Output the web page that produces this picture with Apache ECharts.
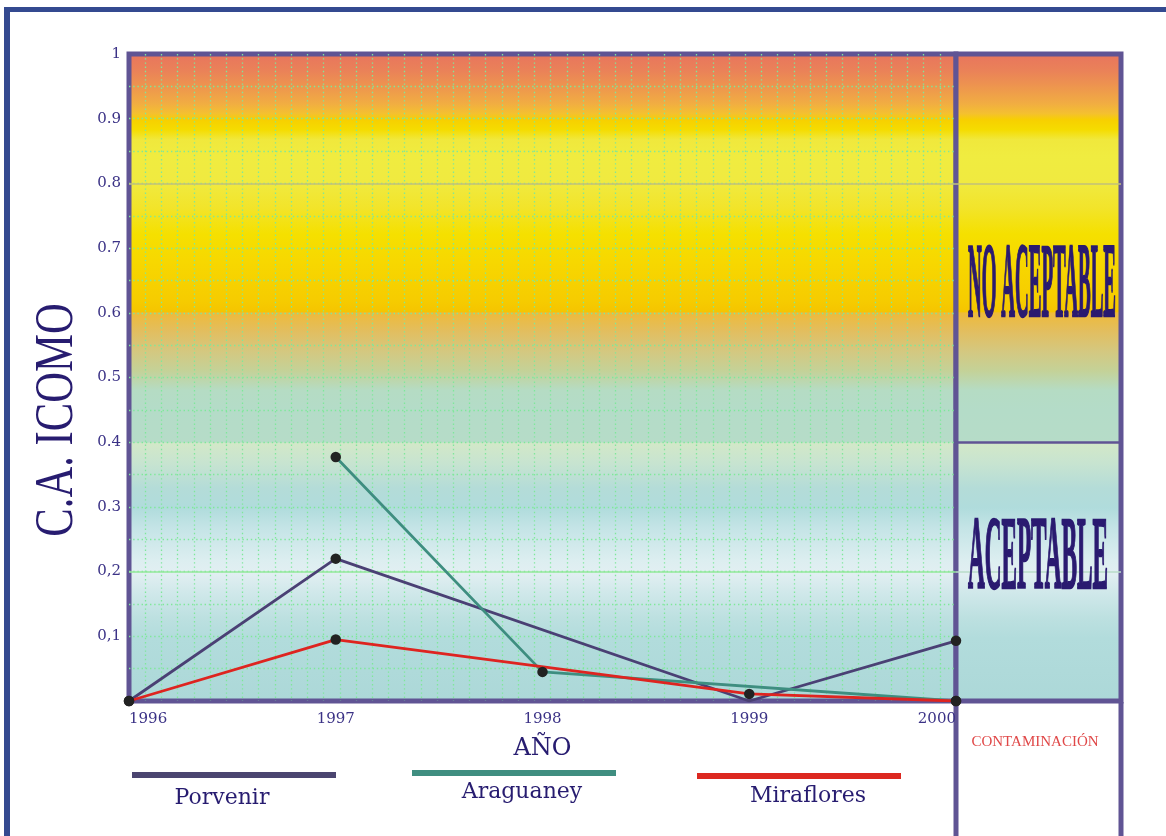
<!DOCTYPE html>
<html>
<head>
<meta charset="utf-8">
<title>C.A. ICOMO</title>
<script src="https://cdn.jsdelivr.net/npm/echarts@6/dist/echarts.min.js"></script>
<style>
  html, body { margin: 0; padding: 0; background: #ffffff; }
  #chart { width: 1166px; height: 836px; }
</style>
</head>
<body>
<div id="chart"></div>
<script>
// ---- data ----
const years = [1996, 1997, 1998, 1999, 2000];
const porvenir = [0, 0.22, null, 0, 0.093];
const araguaney = [null, 0.377, 0.045, null, 0];
const miraflores = [0, 0.095, null, 0.011, 0];
const seriesNames = ['Porvenir', 'Araguaney', 'Miraflores'];
const yTickLabels = ['', '0,1', '0,2', '0.3', '0.4', '0.5', '0.6', '0.7', '0.8', '0.9', '1'];
const zoneLabels = ['NO ACEPTABLE', 'ACEPTABLE'];
const zoneBoundary = 0.4;
const guideLevels = [0.8, 0.2];
const hiddenDots = { Porvenir: [1999] };

// ---- styling ----
const frameBlue = '#344a90';
const borderPurple = '#605494';
const inkNavy = '#3b3286';
const titleNavy = '#271c70';
const zoneInk = '#2a1a70';
const lineColors = ['#4a4074', '#3e8e80', '#de2420'];
const legendColors = ['#4b4570', '#3f8e80', '#dc2820'];
const dotColor = '#7fe89a';

// colour bands of the index scale, keyed by index value (top = 1)
const bandStops = [
  [1.00, '#e8735e'], [0.97, '#ea8258'], [0.95, '#ed9250'], [0.92, '#f1ad42'],
  [0.905, '#f4c030'], [0.895, '#f7d000'], [0.88, '#f5dc00'], [0.865, '#f0e83c'],
  [0.84, '#f0ec40'], [0.80, '#f0ea40'], [0.76, '#f2e42a'], [0.72, '#f5e000'],
  [0.68, '#f7d800'], [0.62, '#f6cc00'], [0.601, '#f5c500'], [0.599, '#eeba3a'],
  [0.57, '#e2be60'], [0.54, '#d4c880'], [0.51, '#c4d298'], [0.48, '#b5dcc4'],
  [0.45, '#b4dcc8'], [0.401, '#b6dcc8'], [0.399, '#d2e8c8'], [0.37, '#c8e4d0'],
  [0.33, '#b4dcd8'], [0.30, '#b0dcdc'], [0.27, '#c4e4e6'], [0.22, '#dceef0'],
  [0.20, '#e2eff2'], [0.17, '#d0e8ea'], [0.13, '#bce0e0'], [0.10, '#b2dcdc'],
  [0.00, '#acd8d8']
];
function bandGradient() {
  return {
    type: 'linear', x: 0, y: 0, x2: 0, y2: 1,
    colorStops: bandStops.map(([v, c]) => ({ offset: 1 - v, color: c }))
  };
}

const dotted = { color: dotColor, width: 1.3, type: [1.4, 2.8] };
const centered = { align: 'center', verticalAlign: 'middle', textAlign: 'center', textVerticalAlign: 'middle' };

function buildSeries(name, values, idx) {
  const hide = hiddenDots[name] || [];
  return {
    name: name,
    type: 'line',
    xAxisIndex: 0,
    yAxisIndex: 0,
    connectNulls: true,
    symbol: 'circle',
    z: 5,
    lineStyle: { color: lineColors[idx], width: 2.8 },
    itemStyle: { color: '#222222', borderWidth: 0 },
    data: values.map((v, i) => ({
      value: [years[i], v],
      symbolSize: hide.indexOf(years[i]) >= 0 ? 0 : 10.5
    }))
  };
}

const chart = echarts.init(document.getElementById('chart'), null, { renderer: 'canvas' });

const option = {
  animation: false,
  backgroundColor: '#ffffff',
  grid: [
    {
      left: 129, right: 210, top: 54, bottom: 135,
      show: true, backgroundColor: bandGradient(),
      borderColor: borderPurple, borderWidth: 5
    },
    {
      left: 956, right: 45, top: 54, bottom: 135,
      show: true, backgroundColor: bandGradient(),
      borderColor: borderPurple, borderWidth: 5
    }
  ],
  xAxis: [
    {
      gridIndex: 0, type: 'value', min: 1996, max: 2000, interval: 1,
      name: 'AÑO', nameLocation: 'middle', nameGap: 36,
      nameTextStyle: { fontFamily: 'DejaVu Serif', fontSize: 24, color: titleNavy },
      axisLine: { show: false }, axisTick: { show: false },
      splitLine: { show: false },
      axisLabel: {
        margin: 11, fontFamily: 'DejaVu Serif', fontSize: 15, color: inkNavy,
        alignMinLabel: 'left', alignMaxLabel: 'right',
        formatter: (v) => String(v)
      }
    },
    {
      // fine vertical grid of the plot area
      gridIndex: 0, type: 'value', min: 0, max: 51, interval: 1, position: 'top',
      axisLine: { show: false }, axisTick: { show: false }, axisLabel: { show: false },
      splitLine: { show: true, showMinLine: false, showMaxLine: false, lineStyle: dotted }
    },
    {
      gridIndex: 1, type: 'value', min: 0, max: 1, show: false
    }
  ],
  yAxis: [
    {
      gridIndex: 0, type: 'value', min: 0, max: 1, interval: 0.1,
      axisLine: { show: false }, axisTick: { show: false },
      axisLabel: {
        margin: 8, fontFamily: 'DejaVu Serif', fontSize: 15, color: inkNavy,
        formatter: (v) => yTickLabels[Math.round(v * 10)]
      },
      splitLine: { show: true, showMinLine: false, showMaxLine: false, lineStyle: dotted },
      minorTick: { show: false, splitNumber: 2 },
      minorSplitLine: { show: true, lineStyle: dotted }
    },
    {
      gridIndex: 1, type: 'value', min: 0, max: 1, show: false
    }
  ],
  series: [
    {
      // guide levels across the plot
      name: 'guides', type: 'line', xAxisIndex: 0, yAxisIndex: 0, z: 3,
      data: [[1996, null]], symbol: 'none',
      markLine: {
        silent: true, symbol: 'none', label: { show: false },
        data: [
          { yAxis: guideLevels[0], lineStyle: { color: '#c2c07a', width: 1.5, type: 'solid' } },
          { yAxis: guideLevels[1], lineStyle: { color: '#92e89a', width: 1.5, type: 'solid' } }
        ]
      }
    },
    {
      // zone column: boundary between acceptable and non acceptable
      name: 'zones', type: 'line', xAxisIndex: 2, yAxisIndex: 1, z: 3,
      data: [[0, null]], symbol: 'none',
      markLine: {
        silent: true, symbol: 'none', label: { show: false },
        data: [
          { yAxis: guideLevels[0], lineStyle: { color: '#c2c07a', width: 1.5, type: 'solid' } },
          { yAxis: guideLevels[1], lineStyle: { color: '#b8dcc8', width: 1.5, type: 'solid' } },
          { yAxis: zoneBoundary, lineStyle: { color: borderPurple, width: 2.5, type: 'solid' } }
        ]
      }
    },
    buildSeries(seriesNames[0], porvenir, 0),
    buildSeries(seriesNames[1], araguaney, 1),
    buildSeries(seriesNames[2], miraflores, 2)
  ],
  graphic: [
    // outer frame
    { type: 'line', silent: true, shape: { x1: 4, y1: 9.5, x2: 1166, y2: 9.5 },
      style: { stroke: frameBlue, lineWidth: 5 } },
    { type: 'line', silent: true, shape: { x1: 7, y1: 7, x2: 7, y2: 836 },
      style: { stroke: frameBlue, lineWidth: 6 } },
    // lower part of the zone column
    { type: 'line', silent: true, shape: { x1: 956, y1: 702, x2: 956, y2: 836 },
      style: { stroke: borderPurple, lineWidth: 5 } },
    { type: 'line', silent: true, shape: { x1: 1121, y1: 702, x2: 1121, y2: 836 },
      style: { stroke: borderPurple, lineWidth: 5 } },
    { type: 'text', silent: true, x: 1035, y: 742, z: 10,
      style: Object.assign({ text: 'CONTAMINACIÓN', font: '15px "Liberation Serif"', fill: '#e04848' }, centered) },
    // zone names
    { type: 'text', silent: true, x: 1042, y: 289, scaleX: 0.19, scaleY: 1.06, z: 10,
      style: Object.assign({ text: zoneLabels[0], font: 'bold 100px "Liberation Serif"', fill: zoneInk,
               stroke: zoneInk, lineWidth: 2.5 }, centered) },
    { type: 'text', silent: true, x: 1038, y: 561, scaleX: 0.232, scaleY: 1.03, z: 10,
      style: Object.assign({ text: zoneLabels[1], font: 'bold 100px "Liberation Serif"', fill: zoneInk,
               stroke: zoneInk, lineWidth: 2.5 }, centered) },
    // y-axis title
    { type: 'text', silent: true, x: 58, y: 420, rotation: Math.PI / 2, scaleX: 0.79, scaleY: 1, z: 10,
      style: Object.assign({ text: 'C.A. ICOMO', font: '54px "Liberation Serif"', fill: titleNavy }, centered) },
    // legend
    { type: 'rect', silent: true, shape: { x: 132, y: 772, width: 204, height: 6 }, style: { fill: legendColors[0] } },
    { type: 'text', silent: true, x: 222, y: 798,
      style: Object.assign({ text: seriesNames[0], font: '22px "DejaVu Serif"', fill: titleNavy }, centered) },
    { type: 'rect', silent: true, shape: { x: 412, y: 770, width: 204, height: 6 }, style: { fill: legendColors[1] } },
    { type: 'text', silent: true, x: 522, y: 792,
      style: Object.assign({ text: seriesNames[1], font: '22px "DejaVu Serif"', fill: titleNavy }, centered) },
    { type: 'rect', silent: true, shape: { x: 697, y: 773, width: 204, height: 6 }, style: { fill: legendColors[2] } },
    { type: 'text', silent: true, x: 808, y: 796,
      style: Object.assign({ text: seriesNames[2], font: '22px "DejaVu Serif"', fill: titleNavy }, centered) }
  ]
};

chart.setOption(option);
</script>
</body>
</html>
